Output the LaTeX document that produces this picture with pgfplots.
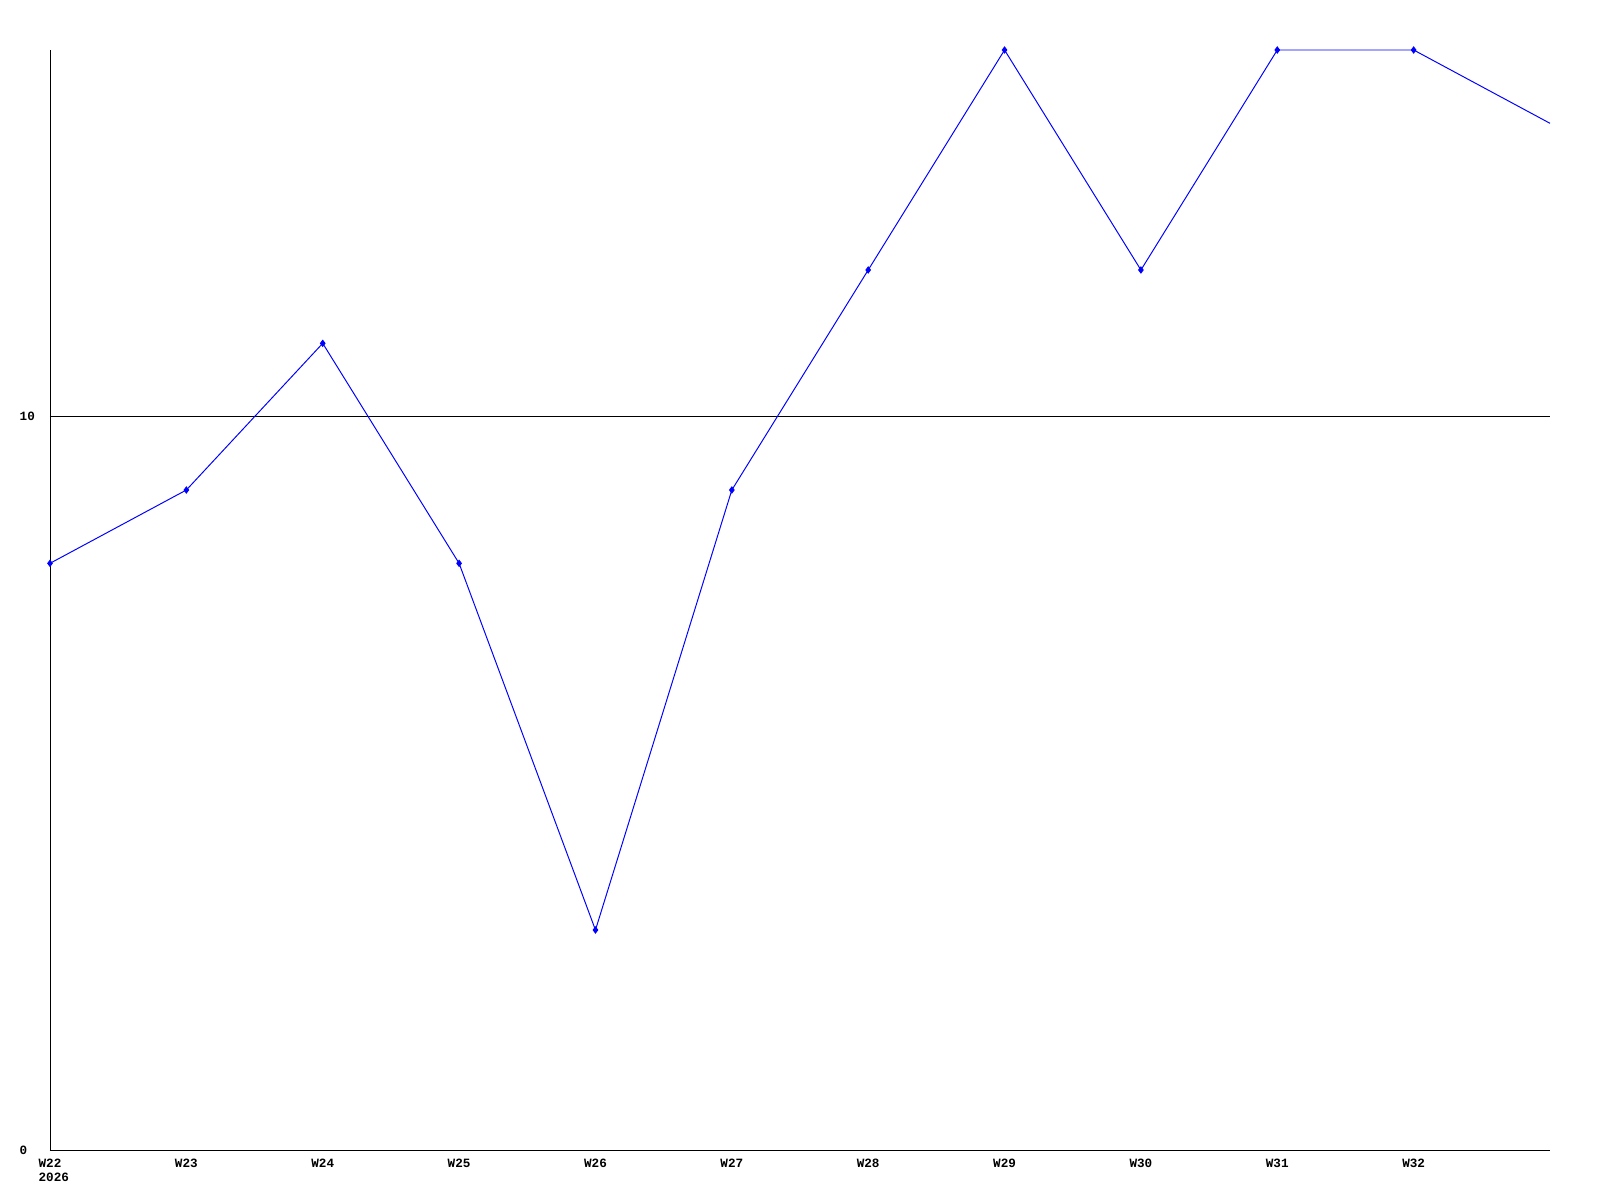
\documentclass[border=0pt]{standalone}
\usepackage{fontspec}
\setmainfont{Liberation Mono}
\usepackage{pgfplots}
\pgfplotsset{compat=1.18}
\begin{document}
\begin{tikzpicture}[x=1mm,y=1mm]
\path[use as bounding box] (-5,-5) rectangle (155,115);
\begin{axis}[
  at={(0,0)}, anchor=origin,
  scale only axis, width=150mm, height=110mm,
  xmin=0, xmax=11, ymin=0, ymax=15,
  axis x line=bottom, axis y line=left,
  axis line style={-, black, line width=0.28pt},
  xtick={0,...,10},
  xticklabels={{W22\\\makebox[0pt][l]{2026}},W23,W24,W25,W26,W27,W28,W29,W30,W31,W32},
  ytick={0,10},
  major tick length=0pt,
  ymajorgrids, grid style={black, line width=0.28pt},
  tick label style={font=\fontsize{3.6}{4}\selectfont\bfseries, inner sep=0pt},
  xticklabel style={align=left, anchor=north, yshift=-0.8mm},
  yticklabel style={anchor=west, xshift=-3.1mm},
  /pgf/number format/assume math mode=true,
  clip=false,
]
\addplot[color={rgb,255:red,0;green,0;blue,255}, line width=0.28pt, mark=diamond*, mark size=0.3mm, mark indices={1,...,11}]
  coordinates {(0,8) (1,9) (2,11) (3,8) (4,3) (5,9) (6,12) (7,15) (8,12) (9,15) (10,15) (11,14)};
\end{axis}
\end{tikzpicture}
\end{document}
